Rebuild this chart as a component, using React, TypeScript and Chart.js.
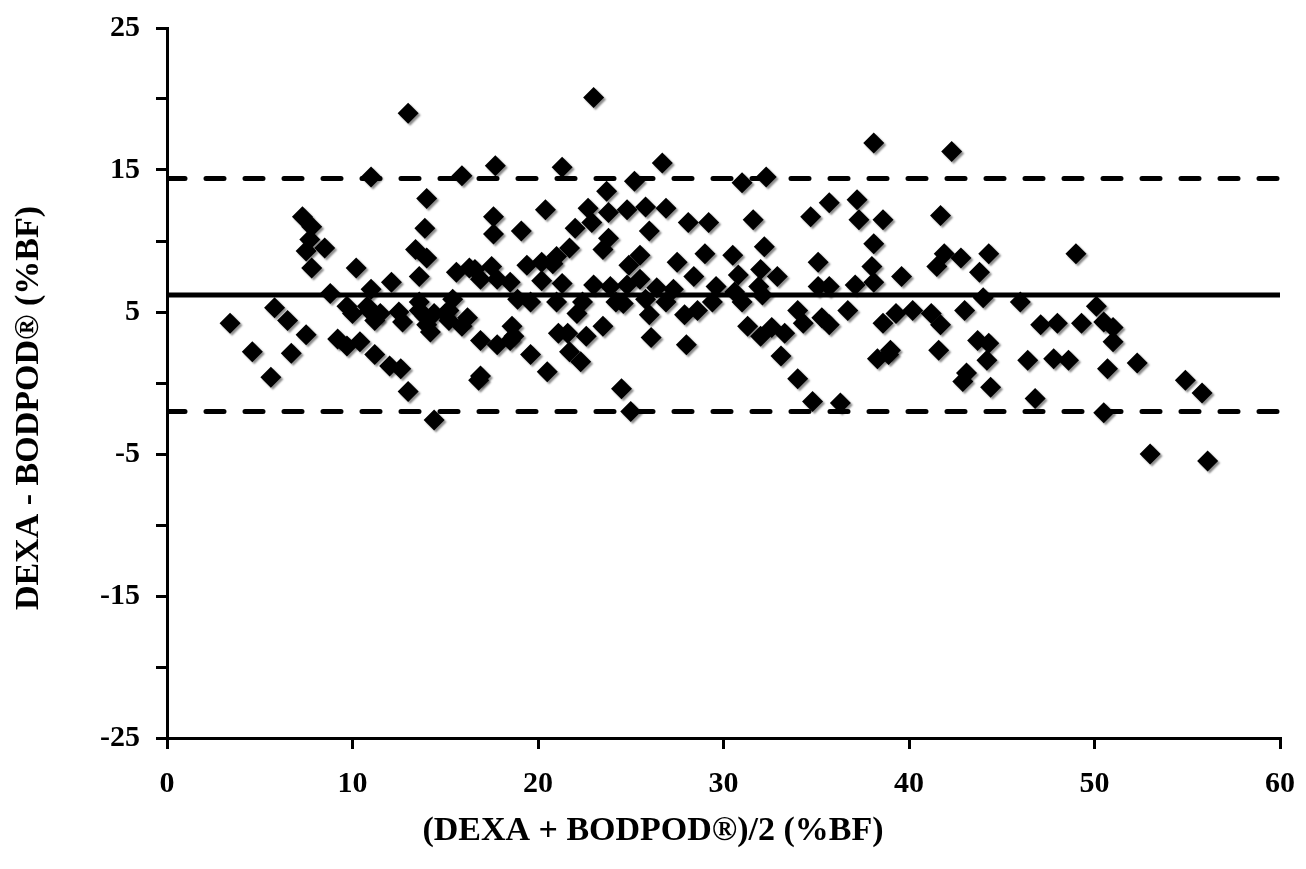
import React, { useEffect, useRef } from "react";
import { Chart, registerables } from "chart.js";

Chart.register(...registerables);

// Mean of the two methods (%BF)
const avgBF = [
  3.4, 4.6, 5.6, 5.8, 6.5, 6.7, 7.3, 7.8, 7.7, 7.5, 8.5, 7.8, 7.5, 8.8, 9.2, 9.7, 9.7, 10.0, 10.2, 10.4,
  10.8, 10.9, 11.0, 11.0, 11.2, 11.5, 11.2, 12.0, 12.1, 12.5, 12.6, 12.7, 13.0, 13.0, 13.4, 13.6, 13.6, 13.6, 13.9, 13.9,
  14.0, 14.0, 14.0, 14.2, 14.4, 14.4, 15.0, 15.2, 15.4, 15.2, 15.6, 15.9, 15.9, 16.2, 16.3, 16.6, 16.9, 16.8, 16.9, 16.9,
  17.5, 17.6, 17.6, 17.7, 17.8, 17.8, 18.5, 18.6, 18.5, 18.7, 18.9, 19.1, 19.4, 19.6, 19.6,
  20.2, 20.2, 20.4, 20.5, 20.8, 21.0, 21.0, 21.1, 21.3, 21.3, 21.6, 21.7, 21.7, 22.0, 22.1, 22.3, 22.4, 22.6, 22.7, 22.9,
  23.0, 23.0, 23.5, 23.5, 23.7, 23.8, 23.8, 23.9, 24.2, 24.5, 24.6, 24.8, 24.8, 24.9, 25.0, 25.2, 25.5, 25.5, 25.8, 25.8,
  26.0, 26.0, 26.1, 26.4, 26.7, 26.9, 26.9, 27.3, 27.5, 27.9, 28.0, 28.1, 28.4, 28.6, 29.0, 29.2, 29.4, 29.6,
  30.5, 30.6, 30.8, 31.0, 31.0, 31.3, 31.6, 31.9, 32.0, 32.0, 32.1, 32.2, 32.3, 32.6, 32.9, 33.1, 33.3, 34.0, 34.0, 34.3,
  34.7, 34.8, 35.1, 35.1, 35.3, 35.7, 35.7, 35.7, 36.3, 36.7, 37.1, 37.2, 37.3, 38.0, 38.1, 38.1, 38.1, 38.3, 38.6, 38.6,
  38.9, 39.0, 39.3, 39.6, 40.2, 41.2, 41.5, 41.6, 41.7, 41.7, 41.9, 42.3, 42.8, 43.0, 43.1, 42.9, 43.7, 43.8, 44.0, 44.2,
  44.3, 44.3, 44.4, 46.0, 46.4, 46.8, 47.1, 47.8, 48.0, 48.6, 49.0, 49.3, 50.1, 50.5, 51.0, 51.0, 50.7, 50.5, 52.3, 53.0,
  54.9, 55.8, 56.1,
];

// Difference DEXA - BODPOD (%BF)
const diffBF = [
  4.2, 2.2, 0.4, 5.3, 4.4, 2.1, 11.7, 11.0, 10.1, 9.3, 9.5, 8.1, 3.4, 6.3, 3.1, 2.6, 5.4, 4.9, 8.1, 2.9,
  5.4, 5.1, 6.6, 14.5, 4.4, 4.9, 2.0, 1.2, 7.1, 5.0, 1.0, 4.3, 19.0, -0.6, 9.4, 7.5, 5.7, 5.1, 4.7, 10.9,
  13.0, 8.8, 4.1, 3.6, 4.9, -2.6, 4.9, 5.1, 5.9, 4.4, 7.8, 14.6, 4.0, 4.6, 8.1, 8.0, 7.3, 0.2, 0.5, 3.0,
  8.2, 11.7, 10.5, 15.3, 7.3, 2.7, 7.1, 4.0, 3.0, 3.3, 5.9, 10.7, 8.3, 5.7, 2.0,
  8.5, 7.2, 12.2, 0.8, 8.4, 5.7, 8.9, 3.5, 15.2, 7.0, 3.5, 9.5, 2.2, 10.9, 4.9, 1.5, 5.7, 3.3, 12.3, 11.3,
  6.9, 20.1, 9.4, 4.0, 13.5, 12.0, 10.2, 6.8, 5.7, -0.4, 5.6, 12.2, 6.9, 8.3, -2.0, 14.2, 9.0, 7.3, 12.4, 5.9,
  4.8, 10.7, 3.2, 6.7, 15.5, 12.3, 5.7, 6.6, 8.5, 4.8, 2.7, 11.3, 7.5, 5.1, 9.1, 11.3, 5.7, 6.8,
  9.0, 6.4, 7.6, 14.1, 5.7, 4.0, 11.5, 6.8, 8.0, 3.3, 6.2, 9.6, 14.5, 3.9, 7.5, 1.9, 3.5, 5.1, 0.3, 4.2,
  11.7, -1.3, 8.5, 6.8, 4.6, 12.7, 6.8, 4.1, -1.4, 5.1, 6.9, 12.9, 11.5, 8.2, 9.8, 7.1, 16.9, 1.7, 11.5, 4.2,
  2.0, 2.3, 4.9, 7.5, 5.1, 4.9, 8.2, 2.3, 4.1, 11.8, 9.1, 16.3, 8.8, 5.1, 0.7, 0.1, 3.0, 7.8, 6.0, 1.6,
  9.1, 2.8, -0.3, 5.7, 1.6, -1.1, 4.1, 1.7, 4.2, 1.6, 9.1, 4.2, 5.4, 4.3, 3.9, 2.9, 1.0, -2.1, 1.4, -5.0,
  0.2, -0.7, -5.5,
];

const meanDiff = 6.2;
const upperLoA = 14.4;
const lowerLoA = -2.0;
const xRange = [0, 60];
const yRange = [-25, 25];
const yLabelValues = [25, 15, 5, -5, -15, -25];

const xTitle = "(DEXA + BODPOD\u00AE)/2 (%BF)";
const yTitle = "DEXA - BODPOD\u00AE (%BF)";

const FONT = '"Liberation Serif", "Times New Roman", serif';

const axisTitles = {
  id: "axisTitles",
  afterDraw(chart: any) {
    const ctx = chart.ctx;
    ctx.save();
    ctx.fillStyle = "#000";
    ctx.font = `bold 34px ${FONT}`;
    ctx.textAlign = "center";
    ctx.textBaseline = "middle";
    ctx.fillText(xTitle, 653, 831);
    ctx.translate(29, 408);
    ctx.rotate(-Math.PI / 2);
    ctx.fillText(yTitle, 0, 0);
    ctx.restore();
  },
};

const markerShadow = {
  id: "markerShadow",
  beforeDatasetDraw(chart: any, args: any) {
    if (args.index === 0) {
      const c = chart.ctx;
      c.save();
      c.shadowColor = "rgba(0,0,0,0.45)";
      c.shadowOffsetX = 2;
      c.shadowOffsetY = 2;
      c.shadowBlur = 2;
    }
  },
  afterDatasetDraw(chart: any, args: any) {
    if (args.index === 0) chart.ctx.restore();
  },
};

export default function App() {
  const canvasRef = useRef<HTMLCanvasElement | null>(null);

  useEffect(() => {
    if (!canvasRef.current) return;
    const points = avgBF.map((x, i) => ({ x, y: diffBF[i] }));
    const hline = (v: number) => [
      { x: xRange[0], y: v },
      { x: xRange[1], y: v },
    ];
    const chart = new Chart(canvasRef.current, {
      type: "scatter",
      data: {
        datasets: [
          {
            data: points,
            pointStyle: "rectRot",
            pointRadius: 10.5,
            pointHoverRadius: 10.5,
            backgroundColor: "#000",
            borderColor: "#000",
            borderWidth: 0,
          } as any,
          {
            type: "line",
            data: hline(meanDiff),
            borderColor: "#000",
            borderWidth: 5,
            pointRadius: 0,
          } as any,
          {
            type: "line",
            data: hline(upperLoA),
            borderColor: "#000",
            borderWidth: 5,
            borderDash: [18, 21],
            borderCapStyle: "round",
            pointRadius: 0,
          } as any,
          {
            type: "line",
            data: hline(lowerLoA),
            borderColor: "#000",
            borderWidth: 5,
            borderDash: [18, 21],
            borderCapStyle: "round",
            pointRadius: 0,
          } as any,
        ],
      },
      options: {
        animation: false,
        responsive: false,
        devicePixelRatio: 1,
        layout: { padding: { left: 0, right: 26, top: 28, bottom: 0 } },
        plugins: {
          legend: { display: false },
          tooltip: { enabled: false },
        },
        scales: {
          x: {
            type: "linear",
            min: xRange[0],
            max: xRange[1],
            border: { display: true, color: "#000", width: 3 },
            grid: {
              display: true,
              drawOnChartArea: false,
              drawTicks: true,
              tickLength: 11,
              color: "#000",
              lineWidth: 3,
            },
            ticks: {
              stepSize: 10,
              color: "#000",
              padding: 17,
              maxRotation: 0,
              font: { family: FONT, size: 30, weight: "bold" },
            },
            afterFit: (scale: any) => {
              scale.height = 131;
              scale.paddingLeft = 0;
              scale.paddingRight = 0;
            },
          },
          y: {
            type: "linear",
            min: yRange[0],
            max: yRange[1],
            border: { display: true, color: "#000", width: 3 },
            grid: {
              display: true,
              drawOnChartArea: false,
              drawTicks: true,
              tickLength: 11,
              color: "#000",
              lineWidth: 3,
            },
            ticks: {
              stepSize: 5,
              color: "#000",
              padding: 16,
              font: { family: FONT, size: 30, weight: "bold" },
              callback: (v: any) => (yLabelValues.includes(Number(v)) ? String(v) : ""),
            },
            afterFit: (scale: any) => {
              scale.width = 167;
              scale.paddingTop = 0;
              scale.paddingBottom = 0;
            },
          },
        },
      } as any,
      plugins: [axisTitles, markerShadow],
    });
    return () => chart.destroy();
  }, []);

  return (
    <div style={{ position: "absolute", left: 0, top: 0, width: 1306, height: 869, background: "#fff" }}>
      <canvas ref={canvasRef} width={1306} height={869} style={{ width: 1306, height: 869, display: "block" }} />
    </div>
  );
}
